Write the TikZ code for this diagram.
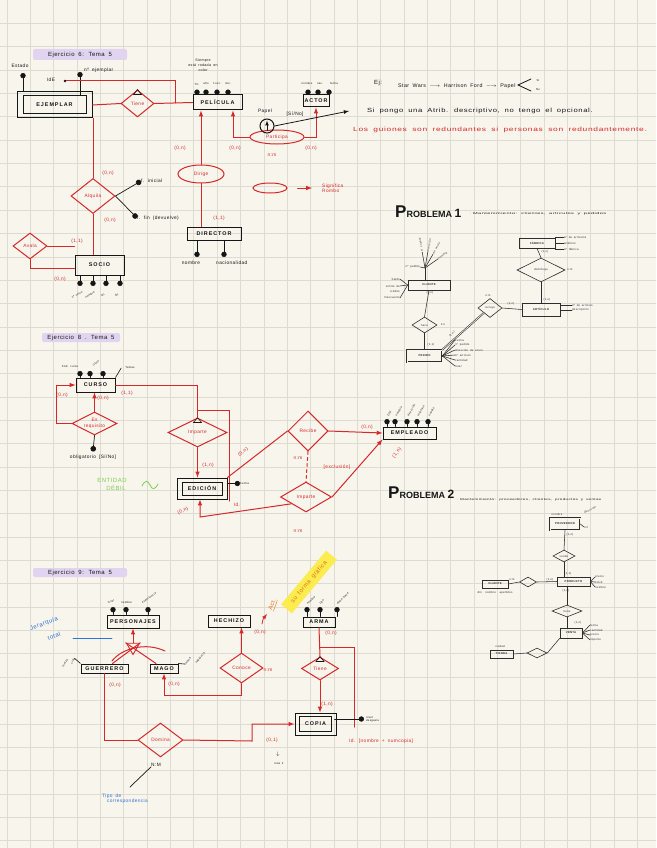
\documentclass[tikz,border=0pt]{standalone}
\usepackage{fontspec}
\setmainfont{Liberation Sans}
\newfontfamily\mano[LetterSpace=8,WordSpace=1.8]{Liberation Sans}
\newfontfamily\caja[LetterSpace=18]{Liberation Sans}
\usepackage{graphicx}
\usepackage{xcolor}
\usetikzlibrary{arrows}
\usetikzlibrary{shapes.geometric}
\usetikzlibrary{math}
\definecolor{papel}{RGB}{248,245,236}
\definecolor{rejilla}{RGB}{222,219,209}
\definecolor{rojo}{RGB}{214,40,42}
\definecolor{azul}{RGB}{45,115,210}
\definecolor{verde}{RGB}{125,205,85}
\definecolor{lila}{RGB}{224,212,240}
\definecolor{amarillo}{RGB}{252,236,80}
\definecolor{naranja}{RGB}{232,112,24}
\definecolor{tinta}{RGB}{22,22,22}
\definecolor{gris}{RGB}{45,45,45}
\newcommand{\tsz}{\mano\fontsize{4.8}{5.4}\selectfont}
\newcommand{\ssz}{\mano\fontsize{2.8}{3.3}\selectfont}
\newcommand{\bsz}{\caja\fontsize{5.4}{6}\selectfont\bfseries}
\newcommand{\nsz}{\mano\fontsize{6}{7}\selectfont}

\begin{document}
\begin{tikzpicture}[x=1pt,y=-1pt,line cap=round,
 ent/.style={draw=tinta,line width=1pt,inner sep=0pt,font=\bsz,text=tinta},
 marco/.style={draw=tinta,line width=1pt,inner sep=0pt},
 rel/.style={diamond,aspect=2,draw=rojo,line width=1pt,inner sep=0pt,font=\tsz,text=rojo},
 relo/.style={ellipse,draw=rojo,line width=1pt,inner sep=0pt,font=\tsz,text=rojo},
 con/.style={rojo,line width=1pt},
 card/.style={font=\tsz,text=rojo,inner sep=0pt},
 txt/.style={font=\tsz,text=tinta,inner sep=0pt},
 lol/.style={tinta,line width=.6pt,*-},
 sent/.style={draw=gris,line width=.7pt,inner sep=0pt,font=\ssz\bfseries,text=gris},
 srel/.style={diamond,aspect=2,draw=gris,line width=.6pt,inner sep=0pt,font=\ssz,text=gris},
 stxt/.style={font=\ssz,text=gris,inner sep=0pt},
 sline/.style={gris,line width=.55pt},
]
\tikzmath{
\g=23.35;
\gx=7;
}
\useasboundingbox (0,0) rectangle (656,848);
\clip (0,0) rectangle (656,848);
%paper:
\fill[papel] (0,0) rectangle (656,848);
\foreach \i in {0,...,28}
  \draw[rejilla,line width=.7pt] ({\gx+\i*\g},0) -- ({\gx+\i*\g},848);
\foreach \j in {1,...,36}
  \draw[rejilla,line width=.7pt] (0,{\j*\g}) -- (656,{\j*\g});

%Ejercicio 6
\fill[lila,rounded corners=2pt] (33,49) rectangle (127,60);
\node[txt,font=\nsz] (tit6) at (80,54.5) {Ejercicio 6: Tema 5};
\node[marco,minimum width=75,minimum height=26] (ejem) at (54.5,105) {};
\node[ent,minimum width=63,minimum height=18] (ejemi) at (54.5,105) {EJEMPLAR};
\node[txt] (aest) at (20,66) {Estado};
\coordinate (cest) at (23,73);
\draw[lol] (cest) -- (cest |- ejem.north);
\node[txt,anchor=west] (anum) at (84,70) {nº ejemplar};
\coordinate (cnum) at (80,72);
\draw[lol] (cnum) -- (cnum |- ejemi.north);
\node[txt] (aide) at (51,80) {IdE};
\coordinate (cide) at (65,81);
\coordinate (jide) at (175,103);
\draw[con] (cide) -| (jide);
\fill[tinta] (cide) circle (1.4);
\node[rel,minimum width=33,minimum height=27] (tiene) at (137.5,103.5) {Tiene};
\draw[tinta,line width=.6pt] ([shift={(-4,5)}]tiene.north) -- (tiene.north) -- ([shift={(4,5)}]tiene.north) -- cycle;
\node[ent,minimum width=49,minimum height=15] (pel) at (217.5,102.5) {PELÍCULA};
\draw[con] (ejem.east) -- (tiene.west);
\draw[con] (tiene.east) -- (pel.west);
\foreach \x/\lab [count=\k] in {197/Tít.,206/año,217/f.est.,228/dur.}{
  \node[txt,font=\ssz] (apel\k) at (\x,84) {\lab};
  \coordinate (cpel\k) at (\x,89.5);
  \draw[lol] (cpel\k) -- (cpel\k |- pel.north);
}
\node[txt,font=\mano\fontsize{3.6}{5}\selectfont,align=center] (nota1) at (203,65) {Siempre\\está rodada en\\color};
\node[ent,minimum width=26,minimum height=12] (actor) at (316,101) {ACTOR};
\foreach \x/\lab [count=\k] in {308/nombre,318/nac.,329/fecha}{
  \node[txt,font=\ssz] (aact\k) at (\x-4+\k*3,84) {\lab};
  \coordinate (cact\k) at (\x,89.5);
  \draw[lol] (cact\k) -- (cact\k |- actor.north);
}
\node[relo,minimum width=54,minimum height=14] (part) at (277,137) {Participa};
\draw[con,-latex] (part.west) -| ([xshift=15.5]pel.south);
\draw[con,-latex] (part.east) -| (actor.south);
\node[circle,draw=tinta,line width=1pt,minimum size=14,inner sep=0] (papc) at (267,126) {};
\draw[tinta,line width=.7pt,-latex] ([yshift=3]papc.south) -- ([yshift=-2]papc.north);
\node[txt] (papl) at (265,111) {Papel};
\node[txt] (sino) at (295,114) {[Sí/No]};
\node[txt,font=\nsz,anchor=west] (nota2) at (367,111) {\scalebox{1.28}[1]{Si pongo una Atrib. descriptivo, no tengo el opcional.}};
\draw[tinta,line width=.8pt,-latex] (papc.east) -- ([xshift=-18]nota2.west);
\node[card] (c1) at (180,148) {(0,n)};
\node[card] (c2) at (235,148) {(0,n)};
\node[card] (c3) at (311,148) {(0,n)};
\node[card] (c4) at (272,155) {n:m};
\node[relo,minimum width=46,minimum height=18] (dirige) at (201,174) {Dirige};
\draw[con,-latex] (dirige.north) -- (dirige.north |- pel.south);
\node[ent,minimum width=54,minimum height=13] (direc) at (214,233.5) {DIRECTOR};
\draw[con] (dirige.south) -- (dirige.south |- direc.north);
\node[card] (c5) at (219,218) {(1,1)};
\node[txt] (adir1) at (191,263) {nombre};
\node[txt,anchor=west] (adir2) at (216,263) {nacionalidad};
\coordinate (cdir1) at (197,257);
\coordinate (cdir2) at (224,257);
\draw[lol] (cdir1) -- (cdir1 |- direc.south);
\draw[lol] (cdir2) -- (cdir2 |- direc.south);
\node[relo,minimum width=34,minimum height=10] (leyo) at (270,188) {};
\node[txt,text=rojo,align=left,anchor=west] (leyt) at (322,188) {Significa\\Rombo};
\draw[con,-latex] ([xshift=10]leyo.east) -- ([xshift=-10]leyt.west);
\node[txt,font=\nsz] (ej) at (378,83) {Ej:};
\node[txt,font=\mano\fontsize{5.3}{6}\selectfont,anchor=west] (sw) at (398,86) {Star Wars $\longrightarrow$ Harrison Ford $\longrightarrow$ Papel};
\coordinate (menor) at (518,85);
\draw[tinta,line width=.8pt] (531,79) -- (menor) -- (531,91);
\node[txt,font=\ssz] (si) at (538,80) {Sí};
\node[txt,font=\ssz] (no) at (538,90) {No};
\node[txt,font=\nsz,text=rojo,anchor=west] (nota3) at (353,130) {\scalebox{1.4}[1]{Los guiones son redundantes si personas son redundantemente.}};
%alquila / avala
\node[rel,minimum width=44,minimum height=35] (alq) at (93,196) {Alquila};
\draw[con] (alq.north) -- (alq.north |- ejem.south);
\node[ent,minimum width=49,minimum height=20] (socio) at (99.5,265) {SOCIO};
\draw[con] (alq.south) -- (alq.south |- socio.north);
\node[txt,anchor=west] (afi) at (141,181) {f. inicial};
\node[txt,anchor=west] (aff) at (137,218) {f. fin (devuelve)};
\draw[tinta,line width=.7pt,*-] (afi.west) -- (alq.east);
\draw[tinta,line width=.7pt,*-] (aff.west) -- (alq.east);
\node[card] (c6) at (108,173) {(0,n)};
\node[card] (c6b) at (110,220) {(0,n)};
\foreach \x/\lab [count=\k] in {80/nº socio,93/nombre,106/tel.,120/dir.}{
  \coordinate (csoc\k) at (\x,286);
  \draw[lol] (csoc\k) -- (csoc\k |- socio.south);
  \node[txt,font=\ssz,rotate=30] (asoc\k) at (\x-3,295) {\lab};
}
\node[rel,minimum width=34,minimum height=26] (avala) at (30,246) {Avala};
\draw[con] (avala.east) -- (avala.east -| socio.west);
\draw[con] (avala.south) |- ([yshift=-3]socio.west);
\node[card] (c7) at (77,241) {(1,1)};
\node[card] (c8) at (60,279) {(0,n)};

%Problema 1
\node[anchor=west,inner sep=0,text=tinta,font=\bfseries] (prob1) at (395,212) {\fontsize{17}{17}\selectfont P\fontsize{9}{9}\selectfont ROBLEMA \fontsize{12}{12}\selectfont 1};
\node[txt,font=\ssz,anchor=west] (sub1) at (470,214) {: \scalebox{2}[1]{Mantenimiento: clientes, artículos y pedidos}};
\node[sent,minimum width=36,minimum height=10] (fab) at (537,243) {FÁBRICA};
\node[srel,minimum width=48,minimum height=24] (dist) at (541,270) {distribuye};
\node[sent,minimum width=38,minimum height=13] (art) at (541,309.5) {ARTÍCULO};
\node[srel,minimum width=24,minimum height=19] (incl) at (490,308) {incluye};
\node[sent,minimum width=42,minimum height=10] (cli) at (429,285) {CLIENTE};
\node[srel,minimum width=25,minimum height=16] (hace) at (424.5,325) {hace};
\node[sent,double=papel,minimum width=35,minimum height=12] (ped) at (424.5,356) {PEDIDO};
\draw[sline] (fab.south) -- (dist.north);
\draw[sline] (dist.south) -- (art.north);
\draw[sline] (incl.east) -- (art.west);
\draw[sline] (cli.south) -- (hace.north);
\draw[sline] (hace.south) -- (ped.north);
\draw[sline,double=papel] (ped.north east) -- (incl.south west);
\node[stxt] (p1a) at (545,252) {(1,n)};
\node[stxt] (p1b) at (547,300) {(1,n)};
\node[stxt] (p1c) at (570,270) {n:m};
\node[stxt] (p1d) at (488,296) {n:m};
\node[stxt] (p1e) at (511,304) {(1,n)};
\node[stxt] (p1f) at (430,293) {(0,n)};
\node[stxt] (p1g) at (443,325) {1:n};
\node[stxt] (p1h) at (431,345) {(1,1)};
\node[stxt,rotate=45] (p1i) at (452,334) {(1,n)};
\foreach \y/\lab [count=\k] in {237/nº de artículos,243/teléfono,249/nº fábrica}{
  \node[stxt,anchor=west] (afab\k) at (564,\y) {\lab};
  \draw[sline] (afab\k.west) -- (afab\k.west -| fab.east);
}
\foreach \y/\lab [count=\k] in {305/nº de artículo,310/descripción}{
  \node[stxt,anchor=west] (aart\k) at (572,\y) {\lab};
  \draw[sline] (aart\k.west) -- (aart\k.west -| art.east);
}
\coordinate (rcli) at (425,268);
\draw[sline] (rcli) -- (rcli |- cli.north);
\foreach \a/\lab [count=\k] in {100/nº cliente,80/dirección,60/de envío,35/nombre}{
  \draw[sline] (rcli) -- ++({16*cos(\a)},{-16*sin(\a)}) node[stxt,rotate=\a,anchor=west] (acli\k) {\lab};
}
\node[stxt,anchor=east] (aclj) at (420,267) {nº pedido};
\draw[sline] (aclj.east) -- (rcli);
\foreach \y/\lab [count=\k] in {279/Saldo,286/Límite de,291/crédito,298/Descuento}{
  \node[stxt,anchor=east] (acll\k) at (400,\y) {\lab};
}
\draw[sline] (acll1.east) -- (cli.west);
\draw[sline] (acll2.east) -- (cli.west);
\draw[sline] (acll4.east) -- (cli.west);
\foreach \y/\lab [count=\k] in {340/Fecha,345/nº pedido,350/dirección de envío,355/nº artículo,360/cantidad,366/total}{
  \node[stxt,anchor=west] (aped\k) at (455,\y) {\lab};
  \draw[sline] (aped\k.west) -- (ped.east);
}

%Ejercicio 8
\fill[lila,rounded corners=2pt] (42,333) rectangle (120,342);
\node[txt,font=\nsz] (tit8) at (81,337.5) {Ejercicio 8 . Tema 5};
\node[ent,minimum width=39,minimum height=14] (curso) at (95.5,385) {CURSO};
\node[txt,font=\ssz] (acur1) at (70,366) {Cód. curso};
\node[txt,font=\ssz,rotate=40] (acur2) at (96,363) {título};
\node[txt,font=\ssz] (acur3) at (130,368) {Temas};
\foreach \x [count=\k] in {80,90,103}{
  \coordinate (ccur\k) at (\x,371);
  \draw[lol] (ccur\k) -- (ccur\k |- curso.north);
}
\draw[tinta,line width=.6pt] (curso.north east) -- ([xshift=-4]acur3.west);
\node[rel,align=center,minimum width=45,minimum height=23] (req) at (94.5,423.5) {Es\\requisito};
\draw[con,-latex] (req.west) -- ++(-15,0) |- (curso.west);
\draw[con,-latex] (req.north) -- (req.north |- curso.south);
\node[txt] (oblig) at (93,457) {obligatorio [Sí/No]};
\draw[tinta,line width=.7pt,-*] (req.south) -- ([yshift=3]oblig.north);
\node[card] (c9) at (62,395) {(0,n)};
\node[card] (c10) at (103,398) {(0,n)};
\node[card] (c11) at (127,393) {(1,1)};
\node[rel,minimum width=59,minimum height=29] (imp1) at (197.5,432.5) {Imparte};
\draw[tinta,line width=.6pt] ([shift={(-4,5)}]imp1.north) -- (imp1.north) -- ([shift={(4,5)}]imp1.north) -- cycle;
\coordinate (k1) at (197.5,410);
\coordinate (k2) at (229,501);
\draw[con] (curso.east) -| (k1) -| (k2);
\draw[con] (k1) -- (imp1.north);
\node[card] (idl) at (237,505) {Id.};
\node[marco,minimum width=50,minimum height=21] (edic) at (202,488.5) {};
\node[ent,minimum width=40,minimum height=13] (edici) at (202,488.5) {EDICIÓN};
\draw[con,-latex] (imp1.south) -- (imp1.south |- edic.north);
\node[card] (c12) at (208,465) {(1,n)};
\node[txt,font=\ssz,anchor=west] (afec) at (240,483.5) {Fecha};
\draw[lol] (afec.west) -- (afec.west -| edic.east);
\node[rel,minimum width=40,minimum height=40] (rec) at (308,431) {Recibe};
\draw[con] (edic.north east) -- (rec.west);
\node[card,rotate=38] (c13) at (243,452) {(0,n)};
\node[ent,minimum width=53,minimum height=12] (emp) at (409.5,433) {EMPLEADO};
\draw[con,-latex] (rec.east) -- (emp.west);
\node[card] (c14) at (367,427) {(0,n)};
\foreach \x/\lab [count=\k] in {387/DNI,395/nombre,407/dirección,417/teléfono,428/sueldo}{
  \coordinate (cemp\k) at (\x,419);
  \draw[lol] (cemp\k) -- (cemp\k |- emp.north);
  \node[txt,font=\ssz,rotate=60,anchor=west] (aemp\k) at (\x+1,416) {\lab};
}
\node[card] (c15) at (298,458) {n:m};
\node[rel,minimum width=51,minimum height=30] (imp2) at (306,497) {Imparte};
\draw[con,dashed] (rec.south) -- (imp2.north);
\node[card] (excl) at (337,467) {[exclusión]};
\draw[con,-latex] (imp2.east) -- (emp.south west);
\node[card,rotate=52] (c16) at (397,453) {(1,n)};
\coordinate (k3) at (200,517);
\draw[con,-latex] (imp2.205) -- (k3) -- (k3 |- edic.south);
\node[card,rotate=25] (c17) at (183,511) {(0,n)};
\node[card] (c18) at (298,531) {n:m};
\node[txt,text=verde,font=\nsz] (debil1) at (112,480) {ENTIDAD};
\node[txt,text=verde,font=\nsz] (debil2) at (116,488) {DÉBIL};
\draw[verde,line width=.8pt] (142,486) .. controls (145,480) and (148,480) .. (150,485) .. controls (152,490) and (155,490) .. (158,484);

%Problema 2
\node[anchor=west,inner sep=0,text=tinta,font=\bfseries] (prob2) at (388,493) {\fontsize{17}{17}\selectfont P\fontsize{9}{9}\selectfont ROBLEMA \fontsize{12}{12}\selectfont 2};
\node[txt,font=\ssz,anchor=west] (sub2) at (457,500) {: \scalebox{1.62}[1]{Mantenimiento: proveedores, clientes, productos y ventas}};
\node[sent,double=papel,minimum width=30,minimum height=12] (prov) at (565,524) {PROVEEDOR};
\node[srel,minimum width=22,minimum height=12] (pd1) at (564,556) {vende};
\node[sent,minimum width=33,minimum height=9] (prod) at (573.5,581.5) {PRODUCTO};
\node[srel,minimum width=17,minimum height=10] (pd2) at (528,582) {};
\node[sent,minimum width=26,minimum height=8] (cli2) at (495,584) {CLIENTE};
\node[srel,minimum width=30,minimum height=12] (pd3) at (567,611) {tiene};
\node[sent,minimum width=22,minimum height=10] (vent) at (571,633) {VENTA};
\node[srel,minimum width=20,minimum height=10] (pd4) at (537,653) {};
\node[sent,minimum width=23,minimum height=8] (tien) at (501.5,654) {TIENDA};
\draw[sline] (prov.south) -- (pd1.north);
\draw[sline] (pd1.south) -- (pd1.south |- prod.north);
\draw[sline] (pd2.east) -- (prod.west);
\draw[sline] (cli2.east) -- (pd2.west);
\draw[sline] (pd3.north |- prod.south) -- (pd3.north);
\draw[sline] (pd3.south) -- (pd3.south |- vent.north);
\draw[sline] (vent.south west) -- (pd4.east);
\draw[sline] (pd4.west) -- (tien.east);
\node[stxt] (q1) at (557,514) {nombre};
\node[stxt,rotate=25] (q2) at (590,510) {dirección};
\node[stxt,anchor=west] (q3) at (584,527) {nif};
\draw[sline] (prov.east) -- (q3.west);
\node[stxt] (q4) at (570,535) {(1,n)};
\node[stxt] (q5) at (568,574) {(1,1)};
\node[stxt] (q6) at (550,580) {(1,n)};
\node[stxt] (q7) at (512,580) {n:m};
\node[stxt] (q8) at (566,591) {(1,n)};
\node[stxt,anchor=north] (q9) at (495,591) {dni \ nombre \ apellidos};
\foreach \y/\lab [count=\k] in {577/precio,582/stock,587/nombre}{
  \node[stxt,anchor=west] (aprod\k) at (595,\y) {\lab};
  \draw[sline] (aprod\k.west) -- (prod.east);
}
\foreach \y/\lab [count=\k] in {625/fecha,630/cantidad,635/precio,640/importe}{
  \node[stxt,anchor=west] (avent\k) at (590,\y) {\lab};
  \draw[sline] (avent\k.west) -- (vent.east);
}
\node[stxt] (q10) at (578,623) {(1,n)};
\node[stxt] (q11) at (500,646) {ciudad};

%Ejercicio 9
\fill[lila,rounded corners=2pt] (33,568) rectangle (127,577);
\node[txt,font=\nsz] (tit9) at (80,572.5) {Ejercicio 9: Tema 5};
\node[ent,minimum width=52,minimum height=13] (pers) at (133,621.5) {PERSONAJES};
\foreach \x/\lab/\r [count=\k] in {113/nivel/20,126/nombre/0,148/experiencia/35}{
  \coordinate (cper\k) at (\x,607);
  \draw[lol] (cper\k) -- (cper\k |- pers.north);
  \node[txt,font=\ssz,rotate=\r,anchor=south west] (aper\k) at (\x-5,604) {\lab};
}
\node[regular polygon,regular polygon sides=3,shape border rotate=180,draw=rojo,line width=.9pt,minimum size=15,inner sep=0] (isa) at (133,647) {};
\draw[con,-latex] (isa.north) -- (pers.south);
\node[ent,minimum width=47,minimum height=9] (guer) at (104.5,668.5) {GUERRERO};
\node[ent,minimum width=28,minimum height=9] (mago) at (164,668.5) {MAGO};
\draw[con] (isa.corner 2) -- ([xshift=8]guer.north);
\draw[con] (isa.corner 3) -- ([xshift=-8]mago.north);
\draw[con] (112,661) .. controls (122,648) and (146,642) .. (165,651);
\node[txt,text=azul,rotate=20,font=\nsz] (jer1) at (44,624) {Jerarquía};
\node[txt,text=azul,rotate=20,font=\nsz] (jer2) at (54,636) {total};
\coordinate (ijer) at (73,638);
\coordinate (fjer) at (112,638);
\draw[azul,line width=.8pt] (ijer) -- (fjer);
\node[txt,font=\ssz,rotate=60] (agu1) at (65,663) {fuerza};
\node[txt,font=\ssz,rotate=60] (agu2) at (73,661) {vida};
\draw[tinta,line width=.6pt] (agu2.east) -- (guer.north west);
\node[txt,font=\ssz,rotate=50] (ama1) at (188,661) {maná};
\node[txt,font=\ssz,rotate=50] (ama2) at (200,658) {sabiduría};
\draw[tinta,line width=.6pt] (mago.north east) -- (ama1.west);
\node[ent,minimum width=42,minimum height=12] (hech) at (229,621) {HECHIZO};
\node[rel,minimum width=43,minimum height=30] (cono) at (241.5,668) {Conoce};
\draw[con,-latex] (cono.north) -- (cono.north |- hech.south);
\draw[con,-latex] (cono.south) -- ++(0,12) -| (mago.south);
\node[card] (c19) at (260,632) {(0,n)};
\node[card] (c20) at (268,670) {n:m};
\node[card] (c21) at (174,684) {(0,n)};
\fill[amarillo,rotate around={50:(309,582)}] (274,575) rectangle (344,589);
\node[txt,text=naranja,rotate=50,font=\nsz] (forma) at (309,582) {su forma gráfica};
\node[txt,text=naranja,rotate=70,font=\nsz] (act) at (273,605) {\underline{Act.}};
\coordinate (fact) at (267,614);
\draw[rojo,line width=.8pt,-latex] (262,624) .. controls (263,619) .. (fact);
\node[ent,minimum width=32,minimum height=10] (arma) at (319,622) {ARMA};
\foreach \x/\lab [count=\k] in {307/nombre,320/tipo,337/daño base}{
  \coordinate (carm\k) at (\x,607);
  \draw[lol] (carm\k) -- (carm\k |- arma.north);
  \node[txt,font=\ssz,rotate=45,anchor=south west] (aarm\k) at (\x+1,605) {\lab};
}
\node[card] (c22) at (331,633) {(0,n)};
\node[rel,minimum width=37,minimum height=23] (tiene2) at (320,668.5) {Tiene};
\draw[tinta,line width=.6pt] ([shift={(-4,5)}]tiene2.north) -- (tiene2.north) -- ([shift={(4,5)}]tiene2.north) -- cycle;
\coordinate (k4) at (320,647);
\coordinate (k5) at (354,727);
\draw[con] (arma.south) -- (tiene2.north);
\draw[con] (k4) -| (k5);
\node[card,anchor=west] (idc) at (349,741) {Id. [nombre + numcopia]};
\node[marco,minimum width=41,minimum height=22] (copia) at (315.5,724) {};
\node[ent,minimum width=32,minimum height=15] (copiai) at (315.5,724) {COPIA};
\draw[con,-latex] (tiene2.south) -- (tiene2.south |- copia.north);
\node[card] (c23) at (327,704) {(1,n)};
\node[txt,font=\ssz,align=left,anchor=west] (acop) at (366,719) {nivel\\desgaste};
\draw[lol] ([xshift=-2]acop.west) -- ([xshift=-2]acop.west -| copia.east);
\node[rel,minimum width=45,minimum height=34] (dom) at (160.5,740) {Domina};
\draw[con] (dom.west) -| (guer.south);
\coordinate (k6) at (252,741);
\draw[con,-latex] (dom.east) -- (k6) |- (copia.west);
\node[card] (c24) at (115,685) {(0,n)};
\node[card] (c25) at (272,740) {(0,1)};
\node[txt] (flecha) at (278,754) {$\downarrow$};
\node[txt,font=\ssz] (max2) at (279,763) {máx 2};
\node[txt] (nm9) at (156,765) {N:M};
\node[txt,text=azul,align=left,anchor=west] (tipo) at (102,799) {Tipo de\\\quad correspondencia};
\draw[tinta,line width=.7pt] (130,787) -- (nm9.south west);
\end{tikzpicture}
\end{document}
